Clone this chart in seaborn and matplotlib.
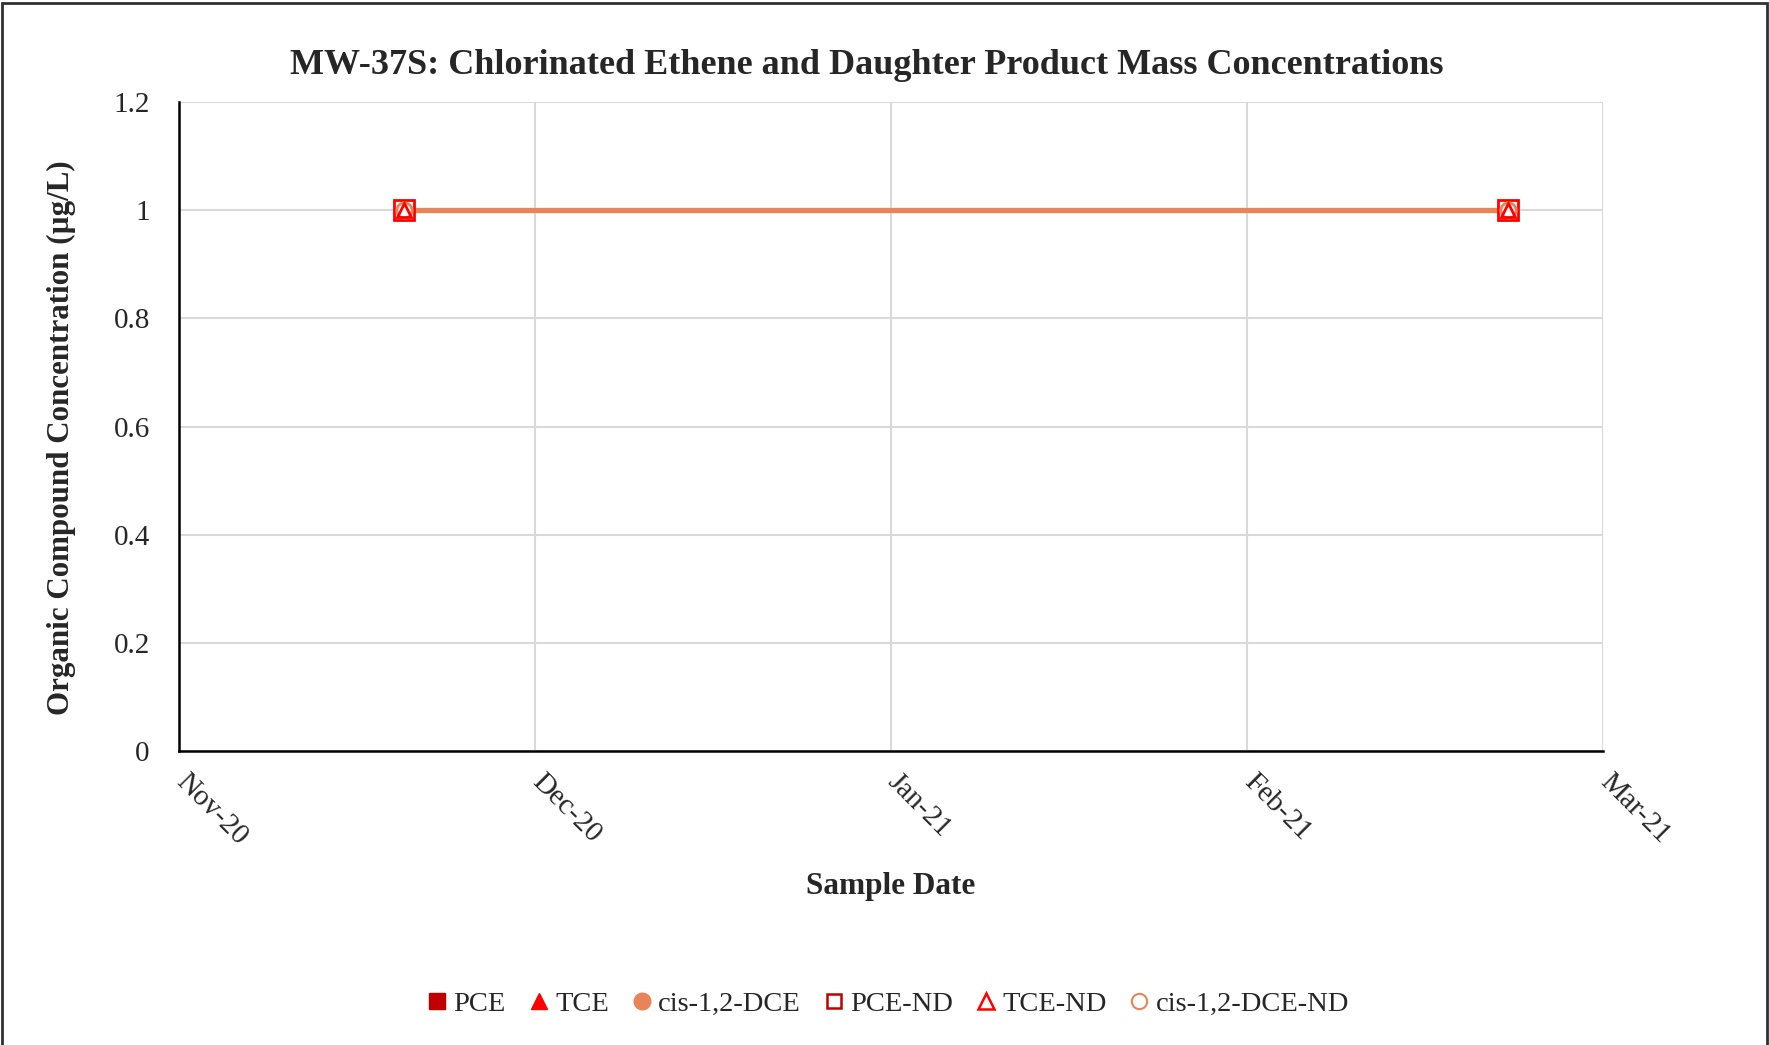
import pandas as pd
import matplotlib.pyplot as plt
import matplotlib.transforms as mtransforms
import seaborn as sns
from matplotlib.lines import Line2D
from matplotlib.patches import Rectangle

# 数据
sample_dates = pd.to_datetime(["2020-11-20", "2021-02-21"])
pce = [None, None]
tce = [None, None]
cis_dce = [None, None]
pce_nd = [1.0, 1.0]
tce_nd = [1.0, 1.0]
cis_dce_nd = [1.0, 1.0]

# Excel 风格：主刻度间隔固定 30 天
x_ticks = pd.date_range("2020-11-01", "2021-03-01", periods=5)
x_tick_labels = ["Nov-20", "Dec-20", "Jan-21", "Feb-21", "Mar-21"]
y_ticks = [0, 0.2, 0.4, 0.6, 0.8, 1, 1.2]
y_tick_labels = ["0", "0.2", "0.4", "0.6", "0.8", "1", "1.2"]

c_pce = "#C00000"
c_tce = "#FF0000"
c_dce = "#E8845A"

sns.set_style("white")
plt.rcParams["font.family"] = ["Liberation Serif", "DejaVu Serif"]

fig = plt.figure(figsize=(17.69, 10.45), dpi=100)
ax = fig.add_axes([0.1012, 0.2813, 0.805, 0.6211])

df = pd.DataFrame({"date": sample_dates, "pce_nd": pce_nd, "tce_nd": tce_nd, "dce_nd": cis_dce_nd})

# 折线（cis-1,2-DCE-ND）
sns.lineplot(data=df, x="date", y="dce_nd", ax=ax, color=c_dce, linewidth=3.8, zorder=2)
ax.plot(df["date"], df["pce_nd"], linestyle="none", marker="s", markersize=14,
        markerfacecolor="white", markeredgecolor=c_tce, markeredgewidth=2, zorder=3)
ax.plot(df["date"], df["dce_nd"], linestyle="none", marker="o", markersize=11,
        markerfacecolor="white", markeredgecolor=c_dce, markeredgewidth=2, zorder=4)
ax.plot(df["date"], df["tce_nd"], linestyle="none", marker="^", markersize=10,
        markerfacecolor="none", markeredgecolor=c_tce, markeredgewidth=2, zorder=5)

ax.set_xlim(x_ticks[0], x_ticks[-1])
ax.set_ylim(0, 1.2)
ax.set_xticks(x_ticks)
ax.set_xticklabels(x_tick_labels)
ax.set_yticks(y_ticks)
ax.set_yticklabels(y_tick_labels)

ax.grid(True, color="#D9D9D9", linewidth=1.5)
ax.set_axisbelow(True)
for s in ["top", "right"]:
    ax.spines[s].set_visible(False)
for s in ["left", "bottom"]:
    ax.spines[s].set_color("black")
    ax.spines[s].set_linewidth(1.8)

ax.tick_params(axis="both", direction="out", length=9, width=1.8, color="black", labelsize=21)
ax.tick_params(axis="y", pad=12)
offset = mtransforms.ScaledTranslation(0.1, 0, fig.dpi_scale_trans)
for lbl in ax.get_xticklabels():
    lbl.set_rotation(-45)
    lbl.set_ha("left")
    lbl.set_va("top")
    lbl.set_rotation_mode("anchor")
    lbl.set_transform(lbl.get_transform() + offset)

ax.set_xlabel("")
ax.set_ylabel("")
fig.text(0.4897, 0.937, "MW-37S: Chlorinated Ethene and Daughter Product Mass Concentrations",
         ha="center", va="center", fontsize=26, fontweight="bold")
fig.text(0.5035, 0.152, "Sample Date", ha="center", va="center", fontsize=22.5, fontweight="bold")
fig.text(0.035, 0.581, "Organic Compound Concentration (µg/L)", ha="center", va="center",
         rotation=90, fontsize=22.3, fontweight="bold")

# 图例
handles = [
    Line2D([0], [0], linestyle="none", marker="s", markersize=11, color=c_pce),
    Line2D([0], [0], linestyle="none", marker="^", markersize=12, color=c_tce),
    Line2D([0], [0], linestyle="none", marker="o", markersize=12, color=c_dce),
    Line2D([0], [0], linestyle="none", marker="s", markersize=10, markerfacecolor="white",
           markeredgecolor=c_pce, markeredgewidth=1.8),
    Line2D([0], [0], linestyle="none", marker="^", markersize=11, markerfacecolor="white",
           markeredgecolor=c_tce, markeredgewidth=1.8),
    Line2D([0], [0], linestyle="none", marker="o", markersize=11, markerfacecolor="white",
           markeredgecolor=c_dce, markeredgewidth=1.5),
]
labels = ["PCE", "TCE", "cis-1,2-DCE", "PCE-ND", "TCE-ND", "cis-1,2-DCE-ND"]
fig.legend(handles, labels, loc="center", bbox_to_anchor=(0.5025, 0.039), ncol=6, frameon=False,
           fontsize=20.5, handlelength=0.6, handletextpad=0.28, columnspacing=0.85)

# 外框
fig.patches.append(Rectangle((0.0012, -0.05), 0.9977, 1.047, transform=fig.transFigure,
                             fill=False, edgecolor="#303030", linewidth=2))

fig.savefig("out.png", dpi=100)
